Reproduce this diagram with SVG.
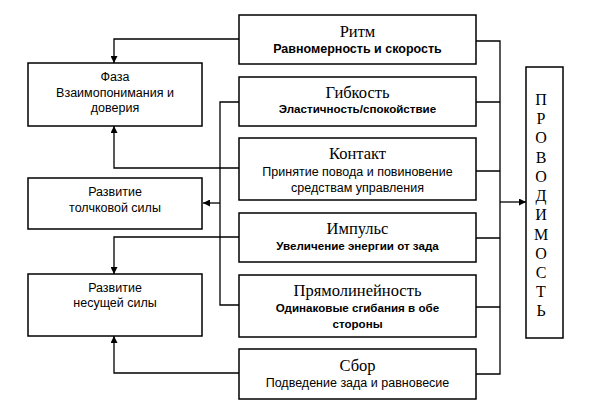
<svg xmlns="http://www.w3.org/2000/svg" width="600" height="415" viewBox="0 0 600 415">
<style>
.box{fill:#fff;stroke:#000;stroke-width:1.5}
.ln{fill:none;stroke:#000;stroke-width:1.3}
.t{font-family:"Liberation Serif",serif;font-size:16.5px;text-anchor:middle;fill:#000}
.s{font-family:"Liberation Sans",sans-serif;font-size:11.6px;font-weight:bold;text-anchor:middle;fill:#000}
.r{font-family:"Liberation Sans",sans-serif;font-size:12.5px;text-anchor:middle;fill:#000}
.l{font-family:"Liberation Sans",sans-serif;font-size:12.5px;text-anchor:middle;fill:#000}
.v{font-family:"Liberation Serif",serif;font-size:16px;text-anchor:middle;fill:#000}
</style>
<defs>
<marker id="ar" viewBox="0 0 10 10" refX="10" refY="5" markerWidth="8" markerHeight="7" markerUnits="userSpaceOnUse" orient="auto">
<path d="M0,0 L10,5 L0,10 Z" fill="#000"/>
</marker>
</defs>
<rect width="600" height="415" fill="#fff"/>
<g id="connectors">
<path class="ln" d="M239,39 H114 V63" marker-end="url(#ar)"/>
<path class="ln" d="M239,168 H114 V126" marker-end="url(#ar)"/>
<path class="ln" d="M239,102 H220 V305 H239"/>
<path class="ln" d="M220,203 H203" marker-end="url(#ar)"/>
<path class="ln" d="M239,237 H114 V274" marker-end="url(#ar)"/>
<path class="ln" d="M239,373 H114 V336" marker-end="url(#ar)"/>
<path class="ln" d="M476,41 H500 V374 H476"/>
<path class="ln" d="M476,102 H500 M476,171 H500 M476,238 H500 M476,307 H500"/>
<path class="ln" d="M500,202 H526" marker-end="url(#ar)"/>
</g>
<g id="faza">
<rect class="box" x="28" y="63" width="174" height="63"/>
<text class="l" x="115" y="81">Фаза</text>
<text class="l" x="115" y="97">Взаимопонимания и</text>
<text class="l" x="115" y="112">доверия</text>
</g>
<g id="tolchkovaya">
<rect class="box" x="28" y="178" width="174" height="51"/>
<text class="l" x="115" y="196">Развитие</text>
<text class="l" x="115" y="212">толчковой силы</text>
</g>
<g id="nesushchaya">
<rect class="box" x="28" y="274" width="174" height="62"/>
<text class="l" x="115" y="292">Развитие</text>
<text class="l" x="115" y="307">несущей силы</text>
</g>
<g id="ritm">
<rect class="box" x="239" y="15" width="237" height="49"/>
<text class="t" x="357.5" y="37">Ритм</text>
<text class="s" x="357.5" y="53" style="font-size:12.5px">Равномерность и скорость</text>
</g>
<g id="gibkost">
<rect class="box" x="239" y="77" width="237" height="49"/>
<text class="t" x="357.5" y="98">Гибкость</text>
<text class="s" x="357.5" y="113">Эластичность/спокойствие</text>
</g>
<g id="kontakt">
<rect class="box" x="239" y="138" width="237" height="62"/>
<text class="t" x="357.5" y="159">Контакт</text>
<text class="r" x="357.5" y="176">Принятие повода и повиновение</text>
<text class="r" x="357.5" y="192">средствам управления</text>
</g>
<g id="impuls">
<rect class="box" x="239" y="213" width="237" height="49"/>
<text class="t" x="357.5" y="234">Импульс</text>
<text class="s" x="357.5" y="250">Увеличение энергии от зада</text>
</g>
<g id="pryamolineynost">
<rect class="box" x="239" y="275" width="237" height="62"/>
<text class="t" x="357.5" y="296">Прямолинейность</text>
<text class="s" x="357.5" y="312">Одинаковые сгибания в обе</text>
<text class="s" x="357.5" y="328">стороны</text>
</g>
<g id="sbor">
<rect class="box" x="239" y="349" width="237" height="50"/>
<text class="t" x="357.5" y="371">Сбор</text>
<text class="r" x="357.5" y="387">Подведение зада и равновесие</text>
</g>
<g id="provodimost">
<rect class="box" x="526" y="67" width="37" height="271"/>
<text class="v" x="541" y="105">П</text>
<text class="v" x="541" y="124">Р</text>
<text class="v" x="541" y="143">О</text>
<text class="v" x="541" y="163">В</text>
<text class="v" x="541" y="182">О</text>
<text class="v" x="541" y="201">Д</text>
<text class="v" x="541" y="220">И</text>
<text class="v" x="541" y="240">М</text>
<text class="v" x="541" y="259">О</text>
<text class="v" x="541" y="278">С</text>
<text class="v" x="541" y="297">Т</text>
<text class="v" x="541" y="316">Ь</text>
</g>
</svg>
